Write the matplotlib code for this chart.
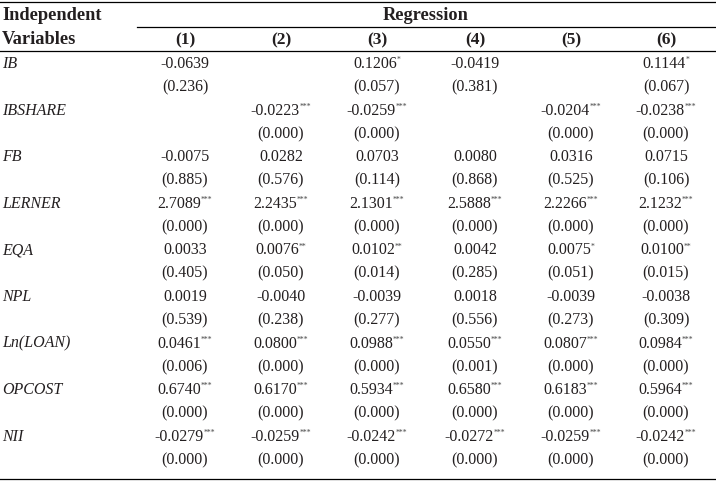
"""回归结果表：用 matplotlib 画成图片。"""
import matplotlib
matplotlib.use("Agg")
import matplotlib.pyplot as plt

plt.rcParams["font.family"] = ["Liberation Serif", "DejaVu Serif"]

# ---- 数据 ----
variables = ["IB", "IBSHARE", "FB", "LERNER", "EQA", "NPL", "Ln(LOAN)", "OPCOST", "NII"]
col_labels = ["(1)", "(2)", "(3)", "(4)", "(5)", "(6)"]

coef_ib = ["-0.0639", "", "0.1206*", "-0.0419", "", "0.1144*"]
pval_ib = ["0.236", "", "0.057", "0.381", "", "0.067"]
coef_ibshare = ["", "-0.0223***", "-0.0259***", "", "-0.0204***", "-0.0238***"]
pval_ibshare = ["", "0.000", "0.000", "", "0.000", "0.000"]
coef_fb = ["-0.0075", "0.0282", "0.0703", "0.0080", "0.0316", "0.0715"]
pval_fb = ["0.885", "0.576", "0.114", "0.868", "0.525", "0.106"]
coef_lerner = ["2.7089***", "2.2435***", "2.1301***", "2.5888***", "2.2266***", "2.1232***"]
pval_lerner = ["0.000", "0.000", "0.000", "0.000", "0.000", "0.000"]
coef_eqa = ["0.0033", "0.0076**", "0.0102**", "0.0042", "0.0075*", "0.0100**"]
pval_eqa = ["0.405", "0.050", "0.014", "0.285", "0.051", "0.015"]
coef_npl = ["0.0019", "-0.0040", "-0.0039", "0.0018", "-0.0039", "-0.0038"]
pval_npl = ["0.539", "0.238", "0.277", "0.556", "0.273", "0.309"]
coef_lnloan = ["0.0461***", "0.0800***", "0.0988***", "0.0550***", "0.0807***", "0.0984***"]
pval_lnloan = ["0.006", "0.000", "0.000", "0.001", "0.000", "0.000"]
coef_opcost = ["0.6740***", "0.6170***", "0.5934***", "0.6580***", "0.6183***", "0.5964***"]
pval_opcost = ["0.000", "0.000", "0.000", "0.000", "0.000", "0.000"]
coef_nii = ["-0.0279***", "-0.0259***", "-0.0242***", "-0.0272***", "-0.0259***", "-0.0242***"]
pval_nii = ["0.000", "0.000", "0.000", "0.000", "0.000", "0.000"]

coefs = [coef_ib, coef_ibshare, coef_fb, coef_lerner, coef_eqa,
         coef_npl, coef_lnloan, coef_opcost, coef_nii]
pvals = [pval_ib, pval_ibshare, pval_fb, pval_lerner, pval_eqa,
         pval_npl, pval_lnloan, pval_opcost, pval_nii]

# ---- 版式（像素坐标） ----
W, H = 716, 484
TXT = "#231f20"
FS = 11.5
col_x = [185, 281, 377, 475, 571, 666]
row0_y, row_h = 64, 23.3

fig = plt.figure(figsize=(W / 100, H / 100), dpi=100)
ax = fig.add_axes([0, 0, 1, 1])
ax.set_xlim(0, W)
ax.set_ylim(H, 0)
ax.axis("off")

# 横线
ax.plot([0, W], [2, 2], color="black", lw=0.9)
ax.plot([137, W], [27, 27], color="black", lw=0.9)
ax.plot([0, W], [51, 51], color="black", lw=0.9)
ax.plot([0, W], [479, 479], color="black", lw=0.9)

# 表头
hdr = dict(fontsize=13.2, fontweight="bold", color=TXT, va="center")
ax.text(2, 16, "Independent", ha="left", **hdr)
ax.text(2, 40, "Variables", ha="left", **hdr)
ax.text(426, 15, "Regression", ha="center", **hdr)
for x, lab in zip(col_x, col_labels):
    ax.text(x, 40, lab, ha="center", **{**hdr, "fontsize": 12.5})

pairs = []
for i, var in enumerate(variables):
    y = row0_y + 2 * i * row_h
    ax.text(2, y, var, ha="left", va="center", fontsize=FS, style="italic", color=TXT)
    for x, c, p in zip(col_x, coefs[i], pvals[i]):
        if c:
            num = c.rstrip("*")
            stars = c[len(num):]
            t = ax.text(x, y, num, ha="center", va="center", fontsize=FS, color=TXT)
            if stars:
                s = ax.annotate(stars, xy=(0.995, 0.74), xycoords=t, ha="left", va="center",
                                fontsize=5.5, color="#444444")
                pairs.append((t, s))
        if p:
            ax.text(x, y + row_h, f"({p})", ha="center", va="center", fontsize=FS, color=TXT)

# 带星号的系数整体居中
fig.canvas.draw()
r = fig.canvas.get_renderer()
for t, s in pairs:
    w = s.get_window_extent(r).width
    x, y = t.get_position()
    t.set_position((x - w / 2, y))

fig.savefig("out.png", dpi=100)
